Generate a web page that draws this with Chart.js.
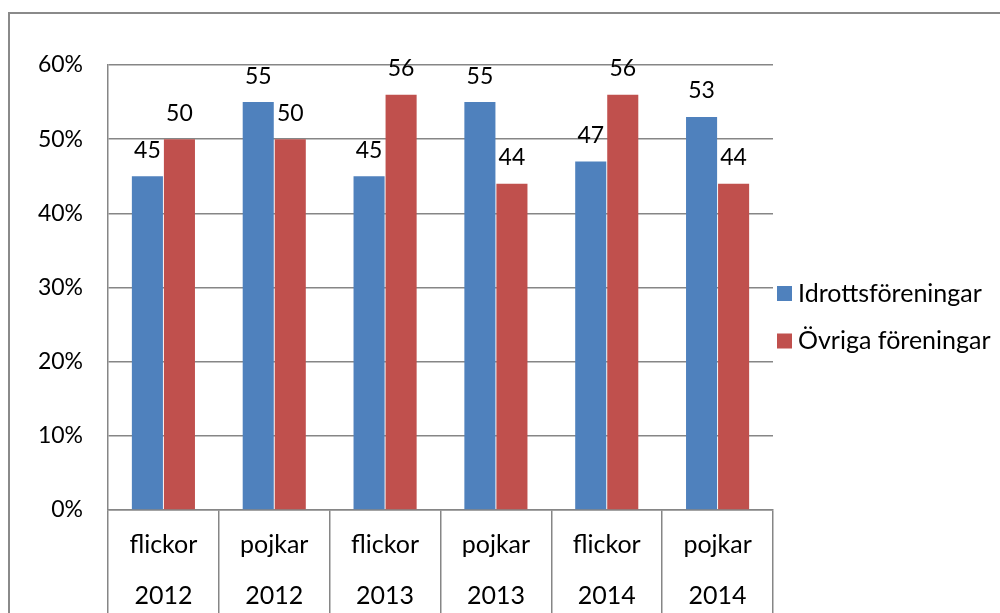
<!DOCTYPE html>
<html>
<head>
<meta charset="utf-8">
<script src="https://cdn.jsdelivr.net/npm/chart.js@4"></script>
<style>
  html, body { margin: 0; padding: 0; background: #fff; overflow: hidden; }
  #wrap { position: absolute; left: 0; top: 0; width: 1000px; height: 650px; }
  #ram { position: absolute; left: 8px; top: 12px; width: 1000px; height: 700px;
         border-top: 2px solid #8a8a8a; border-left: 2px solid #8a8a8a; }
</style>
</head>
<body>
<div id="ram"></div>
<div id="wrap"><canvas id="grafica" width="1000" height="650"></canvas></div>
<script>
// kategorier: kön + år (två rader per etikett)
const kon = ['flickor', 'pojkar', 'flickor', 'pojkar', 'flickor', 'pojkar'];
const ar = ['2012', '2012', '2013', '2013', '2014', '2014'];
const idrott = [45, 55, 45, 55, 47, 53];
const ovriga = [50, 50, 56, 44, 56, 44];
const serieNamn = ['Idrottsföreningar', 'Övriga föreningar'];
const yTicks = [0, 10, 20, 30, 40, 50, 60];

const FONT = 'Lato, "Open Sans", sans-serif';
const GRA = '#868686';

// värden ovanför staplarna
const stapelEtiketter = {
    id: 'stapelEtiketter',
    afterDatasetsDraw(chart) {
        const ctx = chart.ctx;
        ctx.save();
        ctx.font = '23px ' + FONT;
        ctx.fillStyle = '#000';
        ctx.textAlign = 'center';
        ctx.textBaseline = 'middle';
        chart.data.datasets.forEach((ds, i) => {
            chart.getDatasetMeta(i).data.forEach((bar, j) => {
                ctx.fillText(String(ds.data[j]), bar.x, bar.y - 26);
            });
        });
        ctx.restore();
    }
};

// förklaring till höger om diagrammet
const sidoForklaring = {
    id: 'sidoForklaring',
    afterDraw(chart) {
        const ctx = chart.ctx;
        const x = chart.chartArea.right + 4;
        ctx.save();
        ctx.font = '25px ' + FONT;
        ctx.textBaseline = 'middle';
        chart.data.datasets.forEach((ds, i) => {
            const y = 293.5 + i * 47.5;
            ctx.fillStyle = ds.backgroundColor;
            ctx.fillRect(x, y - 7.5, 15, 15);
            ctx.fillStyle = '#000';
            ctx.fillText(ds.label, x + 21, y);
        });
        ctx.restore();
    }
};

new Chart(document.getElementById('grafica'), {
    type: 'bar',
    data: {
        labels: kon.map((k, i) => [k, ar[i]]),
        datasets: [
            {
                label: serieNamn[0],
                data: idrott,
                backgroundColor: '#4F81BD',
                categoryPercentage: 0.578,
                barPercentage: 0.97,
            },
            {
                label: serieNamn[1],
                data: ovriga,
                backgroundColor: '#C0504D',
                categoryPercentage: 0.578,
                barPercentage: 0.97,
            },
        ],
    },
    options: {
        responsive: false,
        animation: false,
        layout: { padding: { left: 8, top: 65, right: 227, bottom: 0 } },
        plugins: {
            legend: { display: false },
            tooltip: { enabled: false },
        },
        scales: {
            x: {
                grid: {
                    drawOnChartArea: false,
                    drawTicks: true,
                    tickLength: 120,
                    color: GRA,
                    lineWidth: 1.5,
                },
                border: { color: GRA, width: 1.5 },
                ticks: {
                    color: '#000',
                    padding: -110.5,
                    font: { family: FONT, size: 25, lineHeight: 51 / 25 },
                },
                afterFit(scale) { scale.height = 140; },
            },
            y: {
                min: 0,
                max: 60,
                afterBuildTicks(scale) { scale.ticks = yTicks.map(v => ({ value: v })); },
                grid: { color: GRA, lineWidth: 1.5, drawTicks: false },
                border: { color: GRA, width: 1.5 },
                ticks: {
                    color: '#000',
                    padding: 25,
                    font: { family: FONT, size: 23 },
                    callback: v => v + '%',
                },
                afterFit(scale) { scale.width = 100; },
            },
        },
    },
    plugins: [stapelEtiketter, sidoForklaring],
});
</script>
</body>
</html>
